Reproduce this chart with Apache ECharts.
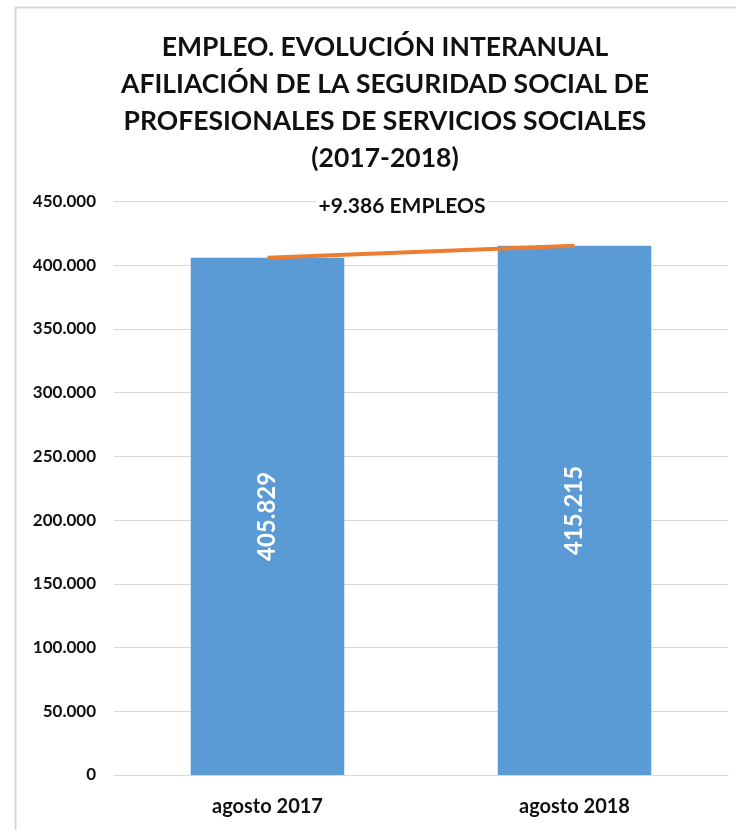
<!DOCTYPE html>
<html>
<head>
<meta charset="utf-8">
<script src="https://cdn.jsdelivr.net/npm/echarts@6/dist/echarts.min.js"></script>
<style>
  html, body { margin: 0; padding: 0; background: #fff; }
  #main { width: 736px; height: 830px; }
</style>
</head>
<body>
<div id="main"></div>
<script>
// datos del gráfico
const categories = ["agosto 2017", "agosto 2018"];
const afiliados = [405829, 415215];
const yMax = 450000;
const yStep = 50000;

const fmt = (v) => String(v).replace(/\B(?=(\d{3})+(?!\d))/g, ".");
const diferencia = afiliados[1] - afiliados[0];

const FONT = "Lato";
var myChart = echarts.init(document.getElementById("main"));

myChart.setOption({
  animation: false,
  backgroundColor: "#fff",
  title: {
    text: "EMPLEO. EVOLUCIÓN INTERANUAL\nAFILIACIÓN DE LA SEGURIDAD SOCIAL DE\nPROFESIONALES DE SERVICIOS SOCIALES\n(2017-2018)",
    left: 380,
    textAlign: "center",
    top: 24,
    textStyle: {
      fontFamily: FONT,
      fontWeight: "bold",
      fontSize: 26.5,
      lineHeight: 37,
      color: "#111",
    },
  },
  graphic: [
    {
      type: "rect",
      left: 13,
      top: 5,
      shape: { width: 760, height: 860 },
      style: { fill: "none", stroke: "#D9D9D9", lineWidth: 2 },
      silent: true,
    },
    {
      // etiqueta de la diferencia interanual
      type: "text",
      x: 402,
      y: 206,
      z: 100,
      style: {
        text: "+" + fmt(diferencia) + " EMPLEOS",
        font: "bold 21px " + FONT,
        fill: "#111",
        align: "center",
        verticalAlign: "middle",
        backgroundColor: "#fff",
        padding: [0, 2],
      },
    },
  ],
  grid: { left: 114, right: 8, top: 201.5, bottom: 55 },
  xAxis: {
    type: "category",
    data: categories,
    axisTick: { show: false },
    axisLine: { lineStyle: { color: "#D9D9D9", width: 1 } },
    axisLabel: {
      margin: 22,
      fontFamily: FONT,
      fontWeight: "bold",
      fontSize: 20,
      color: "#111",
    },
  },
  yAxis: {
    type: "value",
    min: 0,
    max: yMax,
    interval: yStep,
    splitLine: { lineStyle: { color: "#D9D9D9", width: 1 } },
    axisLabel: {
      margin: 18,
      fontFamily: FONT,
      fontWeight: "bold",
      fontSize: 17,
      color: "#111",
      formatter: (v) => fmt(v),
    },
  },
  series: [
    {
      type: "bar",
      data: afiliados,
      barWidth: "50%",
      itemStyle: { color: "#5B9BD5" },
      label: {
        show: true,
        position: "inside",
        rotate: 90,
        color: "#fff",
        fontFamily: FONT,
        fontSize: 24,
        fontWeight: "bold",
        formatter: (p) => fmt(p.value),
      },
    },
    {
      type: "line",
      data: afiliados,
      symbol: "none",
      lineStyle: { color: "#ED7D31", width: 4 },
      z: 5,
    },
  ],
});
</script>
</body>
</html>
